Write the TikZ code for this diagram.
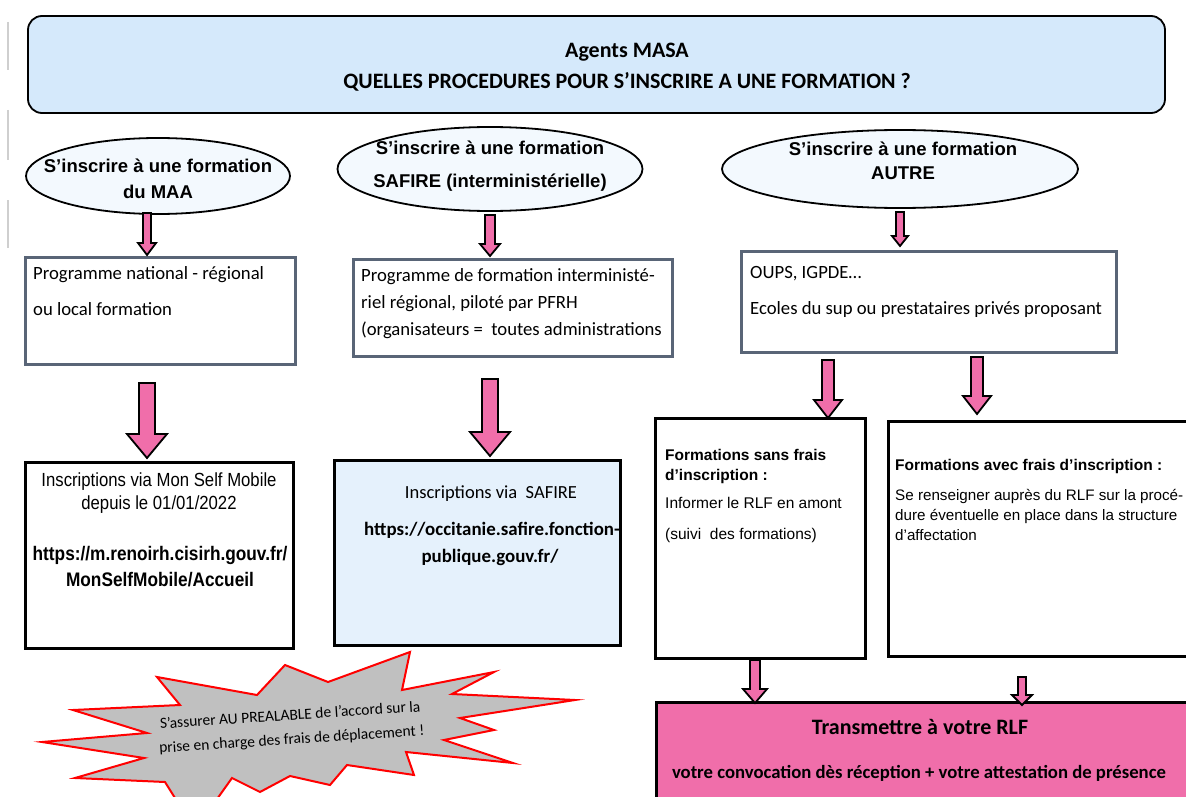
\documentclass[tikz,border=0pt]{standalone}
\usepackage{fontspec}
\setmainfont{Carlito}
\newfontfamily\arial{Liberation Sans}
\newfontfamily\arialn[FakeStretch=0.88]{Liberation Sans}
\usetikzlibrary{shapes.geometric,calc}
\definecolor{topblue}{HTML}{D5E9FB}
\definecolor{ellfill}{HTML}{F3F9FE}
\definecolor{boxgray}{HTML}{596577}
\definecolor{safblue}{HTML}{E5F1FC}
\definecolor{pinkf}{HTML}{F06EAA}
\definecolor{stargray}{HTML}{C0C0C0}
\definecolor{markgray}{HTML}{CFCFCF}
\tikzset{
  ellnode/.style={ellipse, draw=black, line width=1.8pt, fill=ellfill, inner sep=0pt},
  graybox/.style={draw=boxgray, line width=3pt, fill=white},
  blackbox/.style={draw=black, line width=3pt, fill=white},
  barrow/.style={draw=black, line width=1.8pt, fill=pinkf, line join=miter},
  elltext/.style={font=\arial\bfseries\fontsize{18.5}{22}\selectfont, anchor=mid},
  cal/.style={font=\fontsize{18.7}{22}\selectfont, anchor=mid west, inner sep=0pt},
  arl/.style={font=\arial\fontsize{15.5}{18}\selectfont, anchor=mid west, inner sep=0pt},
  arlb/.style={font=\arial\bfseries\fontsize{15.5}{18}\selectfont, anchor=mid west, inner sep=0pt},
  arls/.style={font=\arial\fontsize{15.2}{18}\selectfont, anchor=mid west, inner sep=0pt},
  titletext/.style={font=\bfseries\fontsize{22}{26}\selectfont, anchor=mid},
}
% block arrow between two named coordinates: from, to, shaft half, head half, head length
\newcommand\blockarrow[5]{%
  \draw[barrow] let \p1=(#1), \p2=(#2) in
    (\x1-#3,\y1) -- (\x1+#3,\y1) -- (\x1+#3,\y2+#5) -- (\x1+#4,\y2+#5) --
    (\x1,\y2) -- (\x1-#4,\y2+#5) -- (\x1-#3,\y2+#5) -- cycle;}
\begin{document}
\begin{tikzpicture}[x=1pt,y=-1pt]
\useasboundingbox (0,0) rectangle (1186,797);
\clip (0,0) rectangle (1186,797);
\fill[white] (0,0) rectangle (1186,797);

% grey marks at left edge
\draw[markgray, line width=2.5pt] (8,22) -- (8,70);
\draw[markgray, line width=2.5pt] (8,110) -- (8,160);
\draw[markgray, line width=2.5pt] (8,200) -- (8,248);

% title box
\draw[draw=black, line width=1.8pt, fill=topblue, rounded corners=14pt] (28,16) rectangle (1165,113);
\node[titletext] (t1) at (627,55) {Agents MASA};
\node[titletext] (t2) at (627,86) {QUELLES PROCEDURES POUR S’INSCRIRE A UNE FORMATION ?};

% ellipses
\node[ellnode, minimum width=264pt, minimum height=76pt] (e1) at (158,176) {};
\node[elltext] at (158,170) {S’inscrire à une formation};
\node[elltext] at (158,196) {du MAA};
\node[ellnode, minimum width=305pt, minimum height=84pt] (e2) at (490,169) {};
\node[elltext] at (490,152) {S’inscrire à une formation};
\node[elltext] at (490,185) {SAFIRE (interministérielle)};
\node[ellnode, minimum width=356pt, minimum height=78pt] (e3) at (900,169) {};
\node[elltext] at (903,153) {S’inscrire à une formation};
\node[elltext] at (903,177) {AUTRE};

% row 2 boxes
\draw[graybox] (25,257) rectangle (295,364);
\node[cal] at (33,277) {Programme national - régional};
\node[cal] at (33,313) {ou local formation};

\draw[graybox] (353,259) rectangle (672,356);
\node[cal] at (361,279) {Programme de formation interministé-};
\node[cal] at (361,306) {riel régional, piloté par PFRH};
\node[cal] at (361,333) {(organisateurs =\ \ toutes administrations};

\draw[graybox] (741,251) rectangle (1116,352);
\node[cal] at (750,276) {OUPS, IGPDE…};
\node[cal] at (750,312) {Ecoles du sup ou prestataires privés proposant};

% row 3 boxes
\draw[blackbox] (25,462) rectangle (293,648);
\node[font=\arialn\fontsize{19}{22}\selectfont, anchor=mid] at (159,484) {Inscriptions via Mon Self Mobile};
\node[font=\arialn\fontsize{19}{22}\selectfont, anchor=mid] at (159,507) {depuis le 01/01/2022};
\node[font=\arialn\bfseries\fontsize{19.6}{24}\selectfont, anchor=mid] at (160,558) {https://m.renoirh.cisirh.gouv.fr/};
\node[font=\arialn\bfseries\fontsize{19.6}{24}\selectfont, anchor=mid] at (160,584) {MonSelfMobile/Accueil};

\draw[draw=black, line width=3pt, fill=safblue] (334,460) rectangle (620,645);
\node[font=\fontsize{18.5}{22}\selectfont, anchor=mid] at (491,496) {Inscriptions via\ \ SAFIRE};
\node[font=\bfseries\fontsize{18.9}{22}\selectfont, anchor=mid] at (492,533) {https://occitanie.safire.fonction-};
\node[font=\bfseries\fontsize{18.9}{22}\selectfont, anchor=mid] at (490,560) {publique.gouv.fr/};

\draw[blackbox] (655,418) rectangle (865,658);
\node[arlb] at (665,458) {Formations sans frais};
\node[arlb] at (665,478) {d’inscription :};
\node[arl] at (665,506) {Informer le RLF en amont};
\node[arl] at (665,537) {(suivi\ \ des formations)};

\draw[blackbox] (888,421) rectangle (1200,656);
\node[arlb] at (895,468) {Formations avec frais d’inscription :};
\node[arls] at (895,498) {Se renseigner auprès du RLF sur la procé-};
\node[arls] at (895,518) {dure éventuelle en place dans la structure};
\node[arls] at (895,538) {d’affectation};

% bottom pink box
\draw[draw=black, line width=3pt, fill=pinkf] (656,702) rectangle (1200,810);
\node[font=\bfseries\fontsize{22}{26}\selectfont, anchor=mid] at (920,732) {Transmettre à votre RLF};
\node[font=\bfseries\fontsize{18.7}{22}\selectfont, anchor=mid] at (919,776) {votre convocation dès réception + votre attestation de présence};

% arrows
\coordinate (a1s) at (147,213); \coordinate (a1e) at (147,255);
\coordinate (a2s) at (490,215); \coordinate (a2e) at (490,256);
\coordinate (a3s) at (900,212); \coordinate (a3e) at (900,246);
\coordinate (a4s) at (147,383); \coordinate (a4e) at (147,458);
\coordinate (a5s) at (490,379); \coordinate (a5e) at (490,456);
\coordinate (a6s) at (828,360); \coordinate (a6e) at (828,418);
\coordinate (a7s) at (977,357); \coordinate (a7e) at (977,414);
\coordinate (a8s) at (755,660); \coordinate (a8e) at (755,703);
\coordinate (a9s) at (1022,677); \coordinate (a9e) at (1022,705);
\blockarrow{a1s}{a1e}{4pt}{9pt}{12pt}
\blockarrow{a2s}{a2e}{5pt}{10pt}{12pt}
\blockarrow{a3s}{a3e}{4pt}{8pt}{10pt}
\blockarrow{a4s}{a4e}{8pt}{20pt}{24pt}
\blockarrow{a5s}{a5e}{8pt}{20pt}{24pt}
\blockarrow{a6s}{a6e}{6pt}{14pt}{18pt}
\blockarrow{a7s}{a7e}{6pt}{14pt}{18pt}
\blockarrow{a8s}{a8e}{5pt}{12pt}{14pt}
\blockarrow{a9s}{a9e}{4pt}{10pt}{10pt}

% starburst
\draw[draw=red, line width=2pt, fill=stargray, line join=miter]
 (157,677) -- (257,695) -- (285,665) -- (328,682) -- (410,652) -- (402,690) --
 (494,672) -- (452,694) -- (575,700) -- (460,718) -- (494,730) -- (444,740) --
 (513,763) -- (406,752) -- (414,775) -- (347,765) -- (330,785) -- (290,776) --
 (260,792) -- (232,778) -- (195,830) -- (165,782) -- (75,778) -- (144,758) --
 (42,742) -- (147,733) -- (73,710) -- (180,705) -- cycle;
\node[font=\fontsize{15.5}{24}\selectfont, rotate=3.8, align=center, anchor=center] (st) at (291,728)
 {S’assurer AU PREALABLE de l’accord sur la\\prise en charge des frais de déplacement !};
\end{tikzpicture}
\end{document}
